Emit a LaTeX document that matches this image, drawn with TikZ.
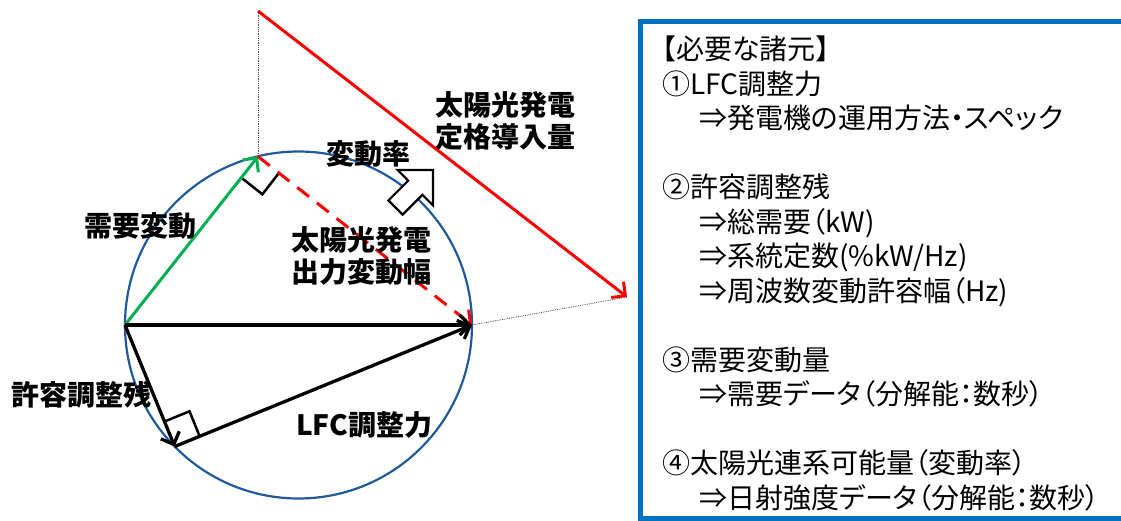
\documentclass[tikz,border=0pt]{standalone}
\usepackage{fontspec}
\newfontfamily\jp{Noto Sans CJK JP}
\newfontfamily\jpp[RawFeature=+palt]{Noto Sans CJK JP}
\usetikzlibrary{arrows.meta,calc}
\definecolor{circblue}{RGB}{31,90,158}
\definecolor{boxblue}{RGB}{0,112,192}
\definecolor{pgreen}{RGB}{0,176,80}
\begin{document}
\begin{tikzpicture}[x=1pt,y=-1pt,
  vec/.style={line width=3pt,-{Straight Barb[length=10pt,width=20pt]}},
  guide/.style={line width=0.8pt,densely dotted,black!70},
  rmark/.style={line width=2.5pt,black,line join=miter},
  lbl/.style={font=\jp\bfseries\fontsize{28pt}{32pt}\selectfont,inner sep=0pt,anchor=west,align=left},
  boxtext/.style={font=\jpp\fontsize{28pt}{34.5pt}\selectfont,inner sep=0pt,anchor=north west,align=left}
]
\useasboundingbox (0,0) rectangle (1121,520);
\fill[white] (0,0) rectangle (1121,520);

% key points
\coordinate (O) at (298.5,325);
\coordinate (A) at (125,325);
\coordinate (R) at (472,325);
\coordinate (P) at (258,156.5);
\coordinate (Q) at (174.7,446.5);
\coordinate (T) at (258,11);
\coordinate (E) at (627,297);

% circle
\draw[circblue,line width=2.2pt] (O) circle[radius=173.5];

% guide lines
\draw[guide] (T) -- (P);
\draw[guide] (R) -- (E);

% right angle marks
\coordinate (p1) at (278.9,173.0);
\coordinate (p3) at (262.4,194.3);
\coordinate (p2) at (241.3,177.7);
\draw[rmark] (p1) -- (p3) -- (p2);
\coordinate (q1) at (199.7,436.3);
\coordinate (q3) at (189.5,411.3);
\coordinate (q2) at (164.5,421.5);
\draw[rmark] (q1) -- (q3) -- (q2);

% vectors
\draw[vec,pgreen] (A) -- (P);
\draw[vec,red,dash pattern=on 15pt off 10pt] (P) -- (R);
\draw[vec,black,line width=3.3pt] (A) -- (R);
\draw[vec,black,line width=3.3pt] (A) -- (Q);
\draw[vec,black,line width=3.3pt] (Q) -- (R);
\draw[vec,red] (T) -- (E);

% hollow block arrow (変動率)
\draw[line width=2.2pt,fill=white,line join=miter]
  (433,170) -- (433,205.4) -- (422.4,194.8) -- (402.6,214.6)
  -- (388.4,200.4) -- (408.2,180.6) -- (397.6,170) -- cycle;

% labels
\node[lbl] (ldemand) at (84,226) {需要変動};
\node[lbl] (lrate) at (326,154) {変動率};
\node[lbl] (lcap) at (435,121) {太陽光発電\\定格導入量};
\node[lbl] (lpv) at (291,256) {太陽光発電\\出力変動幅};
\node[lbl] (lres) at (11,395) {許容調整残};
\node[lbl] (llfc) at (296,425) {LFC調整力};

% right box
\draw[boxblue,line width=5pt] (640,21) rectangle (1150,518);
\node[boxtext] (spec) at (662,36) {【必要な諸元】\\
①LFC調整力\\
\hspace*{37pt}⇒発電機の運用方法・スペック\\[34.5pt]
②許容調整残\\
\hspace*{37pt}⇒総需要（kW)\\
\hspace*{37pt}⇒系統定数(\%kW/Hz)\\
\hspace*{37pt}⇒周波数変動許容幅（Hz)\\[34.5pt]
③需要変動量\\
\hspace*{37pt}⇒需要データ（分解能：数秒）\\[34.5pt]
④太陽光連系可能量（変動率）\\
\hspace*{37pt}⇒日射強度データ（分解能：数秒）};
\end{tikzpicture}
\end{document}
